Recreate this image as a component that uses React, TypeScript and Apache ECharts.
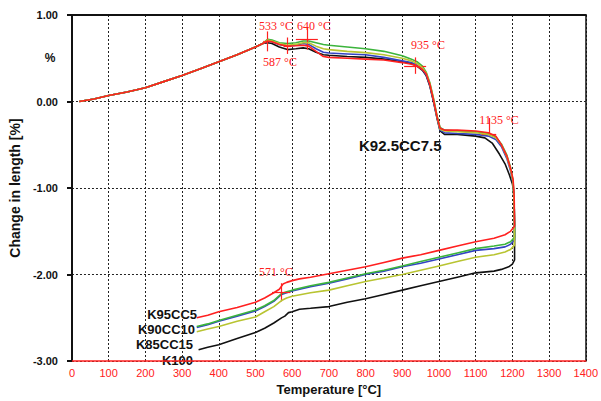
import React, { useEffect, useRef } from "react";
import * as echarts from "echarts";

type P = [number, number];

// common heating branch (all samples coincide up to ~500 °C)
const heatingCommon: P[] = [
  [20, 0], [60, 0.03], [100, 0.07], [150, 0.11], [200, 0.16], [250, 0.23],
  [300, 0.3], [350, 0.38], [400, 0.46], [450, 0.54], [500, 0.63], [520, 0.67],
];

const k100: P[] = [
  [533, 0.68], [545, 0.67], [565, 0.63], [587, 0.6], [610, 0.61], [630, 0.62], [645, 0.61],
  [665, 0.57], [685, 0.54], [700, 0.535], [750, 0.52], [800, 0.51], [850, 0.49], [900, 0.46],
  [925, 0.44], [940, 0.41], [955, 0.36], [965, 0.3], [975, 0.18], [985, 0.0], [995, -0.2],
  [1003, -0.34], [1015, -0.38], [1050, -0.38], [1100, -0.4], [1125, -0.42], [1145, -0.48],
  [1165, -0.61], [1180, -0.72], [1192, -0.85], [1200, -0.95], [1204, -1.05], [1206, -1.4],
  [1206, -1.83], [1200, -1.88], [1190, -1.91], [1170, -1.94], [1150, -1.96], [1100, -1.98],
  [1050, -2.03], [1000, -2.08], [950, -2.13], [900, -2.18], [850, -2.23], [800, -2.28],
  [750, -2.32], [700, -2.37], [650, -2.39], [620, -2.4], [600, -2.43], [590, -2.44],
  [580, -2.48], [571, -2.5], [550, -2.56], [525, -2.62], [500, -2.67], [450, -2.74],
  [400, -2.81], [370, -2.84], [345, -2.87],
];

const k95cc5: P[] = [
  [533, 0.7], [545, 0.69], [565, 0.66], [587, 0.64], [610, 0.645], [630, 0.65], [645, 0.64],
  [665, 0.58], [685, 0.52], [700, 0.51], [750, 0.5], [800, 0.49], [850, 0.48], [900, 0.45],
  [925, 0.43], [940, 0.41], [955, 0.37], [965, 0.32], [975, 0.2], [985, 0.02], [995, -0.18],
  [1003, -0.31], [1015, -0.33], [1050, -0.33], [1100, -0.34], [1135, -0.36], [1155, -0.4],
  [1170, -0.5], [1185, -0.63], [1195, -0.77], [1202, -0.9], [1205, -1.1], [1206, -1.44],
  [1195, -1.5], [1180, -1.54], [1150, -1.58], [1100, -1.62], [1050, -1.67], [1000, -1.72],
  [950, -1.77], [900, -1.81], [850, -1.86], [800, -1.91], [750, -1.95], [700, -1.99],
  [650, -2.03], [620, -2.05], [600, -2.07], [585, -2.09], [575, -2.11], [565, -2.17],
  [550, -2.21], [525, -2.27], [500, -2.32], [450, -2.38], [400, -2.43], [370, -2.47], [340, -2.5],
];

const k925cc75: P[] = [
  [533, 0.7], [545, 0.69], [565, 0.66], [587, 0.64], [610, 0.65], [630, 0.67], [645, 0.66],
  [665, 0.61], [685, 0.57], [700, 0.56], [750, 0.55], [800, 0.54], [850, 0.51], [900, 0.47],
  [925, 0.45], [940, 0.42], [955, 0.37], [965, 0.31], [975, 0.19], [985, 0.01], [995, -0.19],
  [1003, -0.33], [1015, -0.36], [1050, -0.37], [1100, -0.38], [1135, -0.4], [1155, -0.44],
  [1170, -0.52], [1185, -0.66], [1195, -0.8], [1202, -0.95], [1205, -1.2], [1206, -1.6],
  [1195, -1.65], [1180, -1.68], [1150, -1.7], [1100, -1.72], [1050, -1.77], [1000, -1.82],
  [950, -1.87], [900, -1.91], [850, -1.96], [800, -2.0], [750, -2.05], [700, -2.1],
  [650, -2.14], [600, -2.19], [585, -2.21], [571, -2.23], [550, -2.31], [525, -2.37],
  [500, -2.42], [450, -2.48], [400, -2.54], [370, -2.58], [340, -2.61],
];

const k90cc10: P[] = [
  [533, 0.72], [545, 0.71], [565, 0.68], [587, 0.67], [610, 0.68], [630, 0.7], [645, 0.7],
  [665, 0.68], [685, 0.66], [700, 0.65], [750, 0.63], [800, 0.61], [850, 0.58], [900, 0.53],
  [925, 0.49], [940, 0.46], [955, 0.41], [965, 0.34], [975, 0.22], [985, 0.04], [995, -0.17],
  [1003, -0.3], [1015, -0.33], [1050, -0.34], [1100, -0.35], [1135, -0.37], [1155, -0.41],
  [1170, -0.49], [1185, -0.62], [1195, -0.76], [1202, -0.92], [1205, -1.2], [1206, -1.57],
  [1195, -1.62], [1180, -1.65], [1150, -1.67], [1100, -1.7], [1050, -1.75], [1000, -1.8],
  [950, -1.85], [900, -1.9], [850, -1.95], [800, -1.99], [750, -2.04], [700, -2.09],
  [650, -2.13], [600, -2.18], [585, -2.2], [571, -2.22], [550, -2.3], [525, -2.36],
  [500, -2.41], [450, -2.47], [400, -2.53], [370, -2.57], [340, -2.6],
];

const k85cc15: P[] = [
  [533, 0.71], [545, 0.7], [565, 0.67], [587, 0.65], [610, 0.66], [630, 0.68], [645, 0.68],
  [665, 0.64], [685, 0.61], [700, 0.6], [750, 0.58], [800, 0.565], [850, 0.54], [900, 0.5],
  [925, 0.47], [940, 0.44], [955, 0.39], [965, 0.33], [975, 0.21], [985, 0.03], [995, -0.18],
  [1003, -0.32], [1015, -0.34], [1050, -0.35], [1100, -0.36], [1135, -0.38], [1155, -0.42],
  [1170, -0.5], [1185, -0.64], [1195, -0.78], [1202, -0.93], [1205, -1.2], [1206, -1.66],
  [1195, -1.71], [1180, -1.74], [1150, -1.77], [1100, -1.8], [1050, -1.85], [1000, -1.9],
  [950, -1.95], [900, -2.0], [850, -2.04], [800, -2.08], [750, -2.13], [700, -2.18],
  [650, -2.21], [600, -2.25], [585, -2.27], [571, -2.3], [550, -2.37], [525, -2.43],
  [500, -2.49], [450, -2.54], [400, -2.6], [370, -2.63], [340, -2.66],
];

// red "+" markers: [temperature, value, halfWidth(°C), down, up]
const markers: [number, number, number, number, number][] = [
  [533, 0.7, 12, 0.58, 0.81],
  [587, 0.64, 10, 0.55, 0.74],
  [640, 0.716, 30, 0.6, 0.85],
  [935, 0.41, 30, 0.32, 0.51],
  [1136, -0.38, 20, -0.4, -0.19],
  [570, -2.2, 25, -2.31, -2.1],
];
const markerLabels = ["533 °C", "587 °C", "640 °C", "935 °C", "1135 °C", "571 °C"];
const markerLabelPos: [number, number][] = [
  [276, 26], [280, 62], [314, 26], [428, 45], [499, 120], [276, 272],
];

const seriesNames = ["K100", "K92.5CC7.5", "K90CC10", "K85CC15", "K95CC5"];
const seriesColors = ["#111111", "#3444c4", "#3cb43c", "#b8c431", "#ff2020"];
const seriesData = [k100, k925cc75, k90cc10, k85cc15, k95cc5];

const xTicks = { min: 0, max: 1400, interval: 100 };
const yTicks = { min: -3, max: 1, interval: 1 };

const SANS = "'Liberation Sans', Arial, sans-serif";
const SERIF = "'Liberation Serif', 'Times New Roman', serif";
const RED = "#ff2020";

export default function App() {
  const ref = useRef<HTMLDivElement>(null);
  useEffect(() => {
    if (!ref.current) return;
    const chart = echarts.init(ref.current, null, { renderer: "svg" });

    const crossLines: any[] = [];
    markers.forEach(([t, v, hw, lo, hi]) => {
      crossLines.push([{ coord: [t - hw, v] }, { coord: [t + hw, v] }]);
      crossLines.push([{ coord: [t, lo] }, { coord: [t, hi] }]);
    });

    const series: any[] = seriesData.map((d, i) => ({
      name: seriesNames[i],
      type: "line",
      data: [...heatingCommon, ...d],
      symbol: "none",
      showSymbol: false,
      lineStyle: { color: seriesColors[i], width: 1.6 },
      z: 2 + i,
      ...(i === seriesData.length - 1
        ? {
            markLine: {
              silent: true,
              symbol: "none",
              animation: false,
              label: { show: false },
              lineStyle: { color: RED, width: 1.2, type: "solid" },
              data: crossLines,
            },
          }
        : {}),
    }));

    const lbl = (text: string, x: number, y: number, align: string) => ({
      type: "text",
      x,
      y,
      style: { text, font: `bold 13px ${SANS}`, fill: "#111", align, verticalAlign: "middle" },
    });

    const graphic: any[] = [
      {
        type: "text",
        x: 50,
        y: 58,
        style: { text: "%", font: `bold 12px ${SANS}`, fill: "#111", align: "center", verticalAlign: "middle" },
      },
      ...markerLabels.map((txt, i) => ({
        type: "text",
        x: markerLabelPos[i][0],
        y: markerLabelPos[i][1],
        style: { text: txt, font: `12px ${SERIF}`, fill: RED, align: "center", verticalAlign: "middle" },
      })),
      lbl("K95CC5", 197, 314, "right"),
      lbl("K90CC10", 195, 329, "right"),
      lbl("K85CC15", 193, 344, "right"),
      lbl("K100", 193, 360, "right"),
      {
        type: "text",
        x: 359,
        y: 145,
        style: { text: "K92.5CC7.5", font: `bold 15px ${SANS}`, fill: "#111", align: "left", verticalAlign: "middle" },
      },
    ];

    chart.setOption({
      animation: false,
      backgroundColor: "#ffffff",
      grid: { left: 71, right: 10, top: 15, bottom: 34, containLabel: false },
      xAxis: [
        {
          type: "value",
          ...xTicks,
          name: "Temperature [°C]",
          nameLocation: "middle",
          nameGap: 19,
          nameTextStyle: { fontFamily: SANS, fontWeight: "bold", fontSize: 13, color: "#111" },
          axisLine: { show: true, onZero: false, lineStyle: { color: RED, width: 1.5 } },
          axisTick: { show: false },
          axisLabel: {
            color: RED,
            fontFamily: SANS,
            fontSize: 11,
            margin: 6,
            showMaxLabel: true,
            formatter: (v: number) => String(v),
          },
          splitLine: { show: true, lineStyle: { color: "#222", type: [2, 2], width: 1 } },
        },
        {
          type: "value",
          position: "top",
          ...xTicks,
          axisLine: { show: true, onZero: false, lineStyle: { color: "#111", width: 2 } },
          axisTick: { show: false },
          axisLabel: { show: false },
          splitLine: { show: false },
        },
      ],
      yAxis: [
        {
          type: "value",
          ...yTicks,
          name: "Change in length [%]",
          nameLocation: "middle",
          nameGap: 44,
          nameTextStyle: { fontFamily: SANS, fontWeight: "bold", fontSize: 14, color: "#111" },
          axisLine: { show: true, onZero: false, lineStyle: { color: "#111", width: 2 } },
          axisTick: { show: true, length: 5, lineStyle: { color: "#111", width: 2 } },
          axisLabel: {
            color: "#111",
            fontFamily: SANS,
            fontWeight: "bold",
            fontSize: 11,
            margin: 14,
            formatter: (v: number) => v.toFixed(2),
          },
          splitLine: { show: true, lineStyle: { color: "#222", type: [2, 2], width: 1 } },
        },
        {
          type: "value",
          position: "right",
          ...yTicks,
          axisLine: { show: true, onZero: false, lineStyle: { color: "#111", width: 1.5 } },
          axisTick: { show: false },
          axisLabel: { show: false },
          splitLine: { show: false },
        },
      ],
      series,
      graphic,
    });

    return () => chart.dispose();
  }, []);

  return (
    <div
      ref={ref}
      style={{ position: "fixed", left: 0, top: 0, width: 601, height: 401, background: "#fff" }}
    />
  );
}
